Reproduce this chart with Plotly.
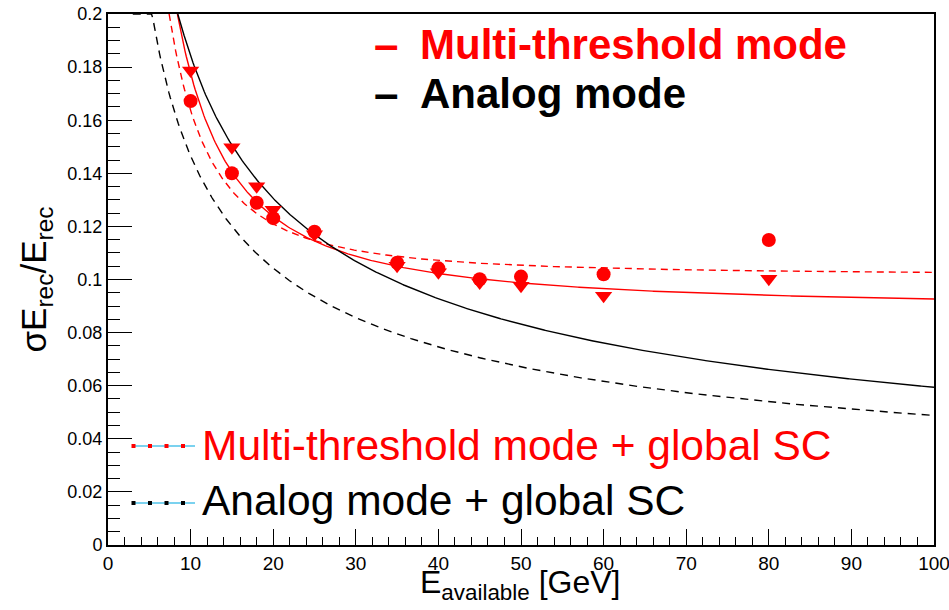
import numpy as np
import plotly.graph_objects as go

# ---- measured points -------------------------------------------------------
energy = [10, 15, 18, 20, 25, 35, 40, 45, 50, 60, 80]
res_circles = [0.1672, 0.1400, 0.1289, 0.1231, 0.1180, 0.1063, 0.1042, 0.1001, 0.1011, 0.1020, 0.1149]
res_triangles = [0.1787, 0.1498, 0.1351, 0.1263, 0.1170, 0.1052, 0.1027, 0.0989, 0.0976, 0.0939, 0.1003]

# ---- resolution fits: (sigma/E)^2 = A/E + B + C/E^2 -------------------------
fit_names = ["Multi-threshold mode", "Multi-threshold mode + global SC",
             "Analog mode", "Analog mode + global SC"]
fit_A = [0.0634, 0.0078, 0.338, 0.2121]
fit_B = [0.00778, 0.010312, 0.00015, 0.00026]
fit_C = [1.741, 1.568, 0.0, 0.0]
fit_xmin = [8.4, 7.4, 8.45, 3.0]
fit_colors = ["#ff0000", "#ff0000", "#000000", "#000000"]
fit_dash = ["solid", "7px,5px", "solid", "8px,6px"]

# ---- axis ticks -------------------------------------------------------------
x_tickvals = [0, 10, 20, 30, 40, 50, 60, 70, 80, 90, 100]
y_tickvals = [0, 0.02, 0.04, 0.06, 0.08, 0.1, 0.12, 0.14, 0.16, 0.18, 0.2]
y_ticktext = ["0", "0.02", "0.04", "0.06", "0.08", "0.1", "0.12", "0.14", "0.16", "0.18", "0.2"]

W, H = 949, 610
ML, MR, MT, MB = 108, 15, 14, 65
PW, PH = W - ML - MR, H - MT - MB
FONT = "Liberation Sans, Arial, Helvetica, sans-serif"


def px_x(p):
    return (p - ML) / PW


def px_y(p):
    return (H - MB - p) / PH


fig = go.Figure()

for name, A, B, C, x0, col, dash in zip(fit_names, fit_A, fit_B, fit_C, fit_xmin, fit_colors, fit_dash):
    e = np.linspace(x0, 100, 600)
    r = np.sqrt(A / e + B + C / e ** 2)
    fig.add_trace(go.Scatter(x=e, y=np.minimum(r, 0.2), mode="lines", name=name,
                             line=dict(color=col, width=1.4, dash=dash),
                             cliponaxis=True, hoverinfo="skip", showlegend=False))

fig.add_trace(go.Scatter(x=energy, y=res_triangles, mode="markers", showlegend=False,
                         marker=dict(symbol="triangle-down", size=15, color="#ff0000",
                                     line=dict(width=0))))
fig.add_trace(go.Scatter(x=energy, y=res_circles, mode="markers", showlegend=False,
                         marker=dict(symbol="circle", size=14, color="#ff0000",
                                     line=dict(width=0))))

shapes = []
annotations = []

# legend key samples: blue line with small square dots
for py, dot_col in [(446, "#ff0000"), (503, "#000000")]:
    shapes.append(dict(type="line", xref="paper", yref="paper",
                       x0=px_x(132), x1=px_x(195), y0=px_y(py), y1=px_y(py),
                       line=dict(color="#4fc3ea", width=1.5)))
    for dx in [133.5, 150, 166.5, 183]:
        shapes.append(dict(type="rect", xref="paper", yref="paper",
                           x0=px_x(dx - 2), x1=px_x(dx + 2), y0=px_y(py - 2), y1=px_y(py + 2),
                           fillcolor=dot_col, line=dict(width=0)))

annotations.append(dict(text="Multi-threshold mode + global SC", xref="paper", yref="paper",
                        x=px_x(200), y=px_y(445), xanchor="left", yanchor="middle",
                        showarrow=False, font=dict(family=FONT, size=42.5, color="#ff0000")))
annotations.append(dict(text="Analog mode + global SC", xref="paper", yref="paper",
                        x=px_x(200), y=px_y(500), xanchor="left", yanchor="middle",
                        showarrow=False, font=dict(family=FONT, size=42.5, color="#000000")))

for py, label, col in [(44, "Multi-threshold mode", "#ff0000"), (93, "Analog mode", "#000000")]:
    annotations.append(dict(text="<b>–</b>", xref="paper", yref="paper",
                            x=px_x(386), y=px_y(py), xanchor="center", yanchor="middle",
                            showarrow=False, font=dict(family=FONT, size=44, color=col)))
    annotations.append(dict(text="<b>" + label + "</b>", xref="paper", yref="paper",
                            x=px_x(418), y=px_y(py), xanchor="left", yanchor="middle",
                            showarrow=False, font=dict(family=FONT, size=42, color=col)))

# x-axis title
annotations.append(dict(text="E<sub>available</sub> [GeV]", xref="paper", yref="paper",
                        x=px_x(520), y=px_y(584), xanchor="center", yanchor="middle",
                        showarrow=False, font=dict(family=FONT, size=32, color="black")))

fig.update_layout(
    width=W, height=H,
    margin=dict(l=ML, r=MR, t=MT, b=MB, pad=0),
    paper_bgcolor="white", plot_bgcolor="white",
    showlegend=False,
    shapes=shapes, annotations=annotations,
    xaxis=dict(range=[0, 100], tickvals=x_tickvals, ticks="inside", ticklen=16,
               tickwidth=1.3, tickcolor="black", automargin=False,
               ticklabeloverflow="allow",
               minor=dict(dtick=2, tick0=0, ticks="inside", ticklen=8, tickwidth=1.3,
                          tickcolor="black", showgrid=False),
               showline=True, linewidth=2, linecolor="black", mirror=True,
               showgrid=False, zeroline=False,
               tickfont=dict(family=FONT, size=19, color="black")),
    yaxis=dict(range=[0, 0.2], tickvals=y_tickvals, ticktext=y_ticktext, ticks="inside",
               ticklen=24, tickwidth=1.3, tickcolor="black", automargin=False,
               minor=dict(dtick=0.005, tick0=0, ticks="inside", ticklen=12, tickwidth=1.3,
                          tickcolor="black", showgrid=False),
               showline=True, linewidth=2, linecolor="black", mirror=True,
               showgrid=False, zeroline=False,
               tickfont=dict(family=FONT, size=18, color="black"),
               title=dict(text="σE<sub>rec</sub>/E<sub>rec</sub>", standoff=10,
                          font=dict(family=FONT, size=35, color="black"))),
)

fig.write_html("out.html")
